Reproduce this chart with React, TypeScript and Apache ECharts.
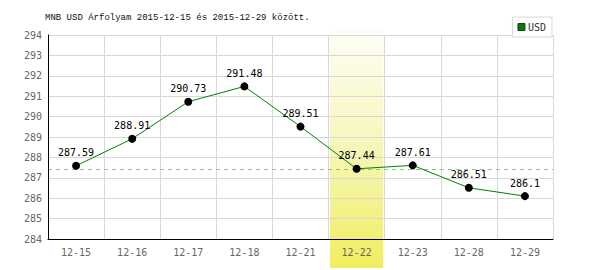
import { useEffect, useRef } from "react";
import * as echarts from "echarts";

const categories = ["12-15", "12-16", "12-17", "12-18", "12-21", "12-22", "12-23", "12-28", "12-29"];
const usdValues = [287.59, 288.91, 290.73, 291.48, 289.51, 287.44, 287.61, 286.51, 286.1];
const highlightCategory = "12-22";
const referenceValue = 287.44;
const yMin = 284;
const yMax = 294;
const yInterval = 1;
const titleText = "MNB USD Árfolyam 2015-12-15 és 2015-12-29 között.";
const seriesName = "USD";

const MONO = "'DejaVu Sans Mono', 'Liberation Mono', monospace";

export default function App() {
  const ref = useRef<HTMLDivElement>(null);
  useEffect(() => {
    if (!ref.current) return;
    const chart = echarts.init(ref.current, undefined, { renderer: "svg" });
    chart.setOption({
      animation: false,
      backgroundColor: "#fff",
      title: {
        text: titleText,
        left: 45,
        top: 13,
        padding: 0,
        textStyle: { fontFamily: "'Liberation Mono', monospace", fontSize: 9, fontWeight: "normal", color: "#111" },
      },
      legend: {
        right: 48,
        top: 17,
        padding: [5, 6, 5, 5],
        borderColor: "#d8d8d8",
        borderWidth: 1,
        backgroundColor: "#fff",
        itemWidth: 7,
        itemHeight: 7,
        itemGap: 4,
        icon: "rect",
        textStyle: { fontFamily: MONO, fontSize: 10, color: "#333", padding: [0, 0, 0, -2] },
        data: [{ name: seriesName, itemStyle: { color: "#008000", borderColor: "#333", borderWidth: 1 } }],
        z: 10,
      },
      grid: { left: 48, right: 47, top: 35, bottom: 31 },
      xAxis: [
        {
          type: "category",
          data: categories,
          boundaryGap: true,
          z: 0,
          axisLine: { show: false },
          axisTick: { show: false },
          axisLabel: { show: false },
          splitLine: { show: true, lineStyle: { color: "#d8d8d8", width: 1 } },
        },
        {
          type: "category",
          data: categories,
          boundaryGap: true,
          position: "bottom",
          z: 5,
          axisLine: { show: true, lineStyle: { color: "#000", width: 1 } },
          axisTick: { show: false },
          axisLabel: { margin: 8, fontFamily: MONO, fontSize: 10, color: "#666" },
          splitLine: { show: false },
        },
      ],
      yAxis: {
        type: "value",
        min: yMin,
        max: yMax,
        interval: yInterval,
        z: 5,
        axisLine: { show: true, lineStyle: { color: "#000", width: 1 } },
        axisTick: { show: false },
        axisLabel: { margin: 6, fontFamily: MONO, fontSize: 10, color: "#666" },
        splitLine: { show: true, lineStyle: { color: "#d8d8d8", width: 1 } },
      },
      series: [
        {
          name: seriesName,
          type: "line",
          data: usdValues,
          xAxisIndex: 0,
          z: 6,
          symbol: "circle",
          symbolSize: 8,
          lineStyle: { color: "#008000", width: 1 },
          itemStyle: { color: "#000" },
          label: {
            show: true,
            position: "top",
            distance: 4,
            fontFamily: MONO,
            fontSize: 10,
            color: "#000",
          },
          markLine: {
            silent: true,
            symbol: ["none", "none"],
            label: { show: false },
            lineStyle: { color: "#8fc48f", type: [4, 4], width: 1 },
            data: [{ yAxis: referenceValue }],
          },
        },
      ],
    });
    const cx = chart.convertToPixel({ xAxisIndex: 0 }, highlightCategory) as number;
    const c1 = chart.convertToPixel({ xAxisIndex: 0 }, categories[1]) as number;
    const c0 = chart.convertToPixel({ xAxisIndex: 0 }, categories[0]) as number;
    const bandW = (c1 - c0) - 3;
    const top = (chart.convertToPixel({ yAxisIndex: 0 }, yMax) as number) - 6;
    chart.setOption({
      graphic: [
        {
          type: "rect",
          z: 3,
          silent: true,
          shape: { x: cx - bandW / 2, y: top, width: bandW, height: 268 - top },
          style: {
            fill: new echarts.graphic.LinearGradient(0, 0, 0, 1, [
              { offset: 0, color: "#fefef8" },
              { offset: 0.5, color: "#f7f6b8" },
              { offset: 1, color: "#f0ee5e" },
            ]),
          },
        },
      ],
    });
    return () => chart.dispose();
  }, []);
  return <div ref={ref} style={{ position: "fixed", left: 0, top: 0, width: 600, height: 270 }} />;
}
